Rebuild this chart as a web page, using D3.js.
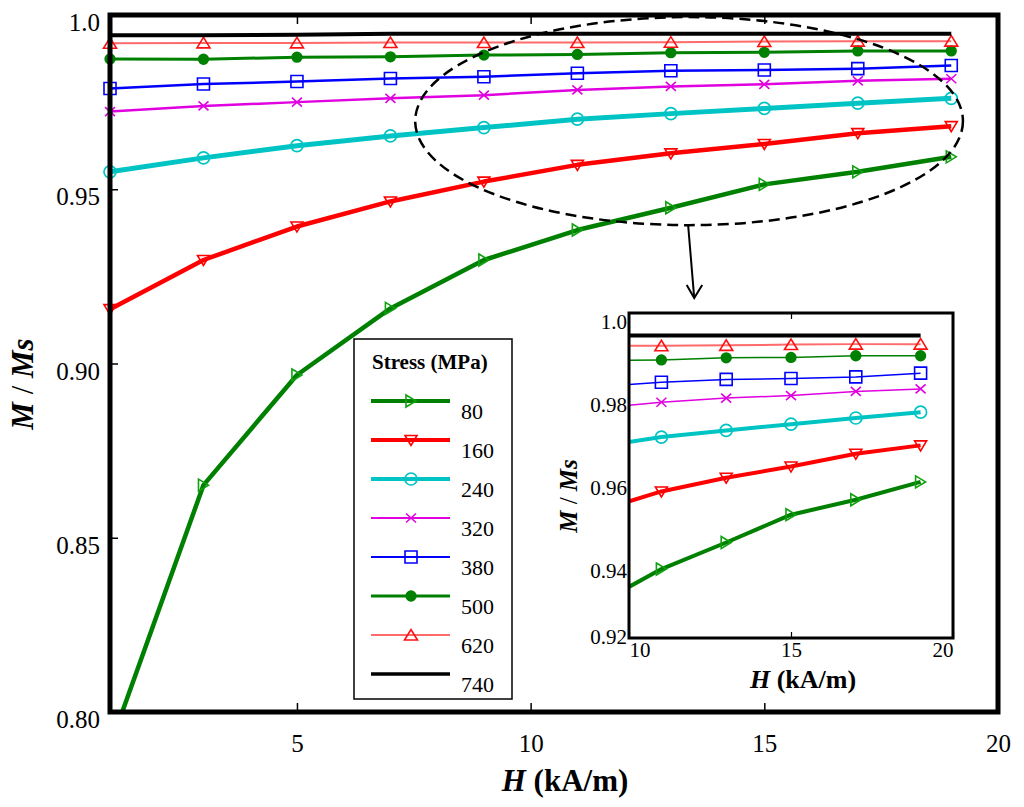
<!DOCTYPE html>
<html>
<head>
<meta charset="utf-8">
<script src="https://cdn.jsdelivr.net/npm/d3@7"></script>
<style>
  body { margin: 0; background: #fff; }
</style>
</head>
<body>
<div id="chart"></div>
<script>
// field H (kA/m) at which M/Ms was computed
const H = [1, 3, 5, 7, 9, 11, 13, 15, 17, 19];

// M/Ms for each stress level (MPa)
const s80  = [0.7902, 0.8651, 0.8967, 0.9158, 0.9297, 0.9383, 0.9447, 0.9514, 0.9550, 0.9593];
const s160 = [0.9156, 0.9297, 0.9393, 0.9465, 0.9522, 0.9570, 0.9603, 0.9630, 0.9661, 0.9681];
const s240 = [0.9550, 0.9590, 0.9625, 0.9653, 0.9677, 0.9701, 0.9717, 0.9732, 0.9747, 0.9761];
const s320 = [0.9723, 0.9739, 0.9750, 0.9761, 0.9770, 0.9785, 0.9795, 0.9801, 0.9811, 0.9817];
const s380 = [0.9789, 0.9802, 0.9809, 0.9818, 0.9823, 0.9833, 0.9840, 0.9842, 0.9846, 0.9855];
const s500 = [0.9874, 0.9873, 0.9879, 0.9880, 0.9885, 0.9887, 0.9892, 0.9893, 0.9897, 0.9897];
const s620 = [0.9919, 0.9920, 0.9920, 0.9921, 0.9921, 0.9921, 0.9922, 0.9924, 0.9925, 0.9925];
const s740 = [0.9942, 0.9942, 0.9943, 0.9946, 0.9946, 0.9946, 0.9946, 0.9946, 0.9946, 0.9946];

const stressLabels = ["80", "160", "240", "320", "380", "500", "620", "740"];

const mainXTicks = [5, 10, 15, 20];
const mainYTicks = [0.80, 0.85, 0.90, 0.95, 1.0];
const insetXTicks = [10, 15, 20];
const insetYTicks = [0.92, 0.94, 0.96, 0.98, 1.0];

// styling per series
const lineColors   = ["#008000", "#ff0000", "#00c4c4", "#e000e0", "#0000ff", "#008000", "#ff6a6a", "#000000"];
const markColors   = ["#10a010", "#ff0000", "#00c4c4", "#e000e0", "#0000ff", "#008000", "#ff1010", "none"];
const mainWidths   = [4.5, 4.5, 5, 2.5, 2.5, 3, 2, 4];
const insetWidths  = [4, 4, 4, 1.5, 1.5, 1.5, 2, 4];
const legendWidths = [4, 4, 4, 2, 2, 3, 2, 3.5];
const markerTypes  = ["triRight", "triDown", "circle", "cross", "square", "dot", "triUp", "none"];

const serif = "'Liberation Serif', 'Times New Roman', serif";

const allValues = [s80, s160, s240, s320, s380, s500, s620, s740];
const series = stressLabels.map((lab, i) => ({
  label: lab,
  points: H.map((h, j) => ({h: h, m: allValues[i][j]})),
  color: lineColors[i],
  mark: markColors[i],
  type: markerTypes[i],
  wMain: mainWidths[i],
  wInset: insetWidths[i],
  wLegend: legendWidths[i]
}));

const shapes = {
  triRight: "M-5,-6 L5,0 L-5,6 Z",
  triDown: "M-6,-4.5 L6,-4.5 L0,5.5 Z",
  triUp: "M-6.5,5 L6.5,5 L0,-5.5 Z",
  cross: "M-5,-4.5 L5,4.5 M-5,4.5 L5,-4.5",
  square: "M-6,-6 H6 V6 H-6 Z"
};

function drawMarkers(g, s, pts, px, py) {
  if (s.type === "none") return;
  if (s.type === "circle" || s.type === "dot") {
    g.selectAll(null)
      .data(pts)
      .enter()
      .append("circle")
      .attr("cx", d => px(d))
      .attr("cy", d => py(d))
      .attr("r", s.type === "dot" ? 4.8 : 6)
      .attr("fill", s.type === "dot" ? s.mark : "none")
      .attr("stroke", s.mark)
      .attr("stroke-width", 1.7);
  } else {
    g.selectAll(null)
      .data(pts)
      .enter()
      .append("path")
      .attr("d", shapes[s.type])
      .attr("transform", d => "translate(" + px(d) + "," + py(d) + ")")
      .attr("fill", "none")
      .attr("stroke", s.mark)
      .attr("stroke-width", 1.6);
  }
}

const svg = d3.select("#chart")
  .append("svg")
  .attr("width", 1024)
  .attr("height", 807)
  .style("font-family", serif);

// ---------- main plot ----------
const x = d3.scaleLinear().domain([1, 20]).range([110, 998]);
const y = d3.scaleLinear().domain([0.80, 1.0]).range([712, 15]);

svg.append("clipPath").attr("id", "clipMain")
  .append("rect")
  .attr("x", 90).attr("y", y(1.0))
  .attr("width", x(20) - 90 + 20).attr("height", y(0.80) - y(1.0));

const fmtMain = d => d === 1 ? "1.0" : d3.format(".2f")(d);

const gx = svg.append("g")
  .attr("transform", "translate(0," + y(0.80) + ")")
  .call(d3.axisBottom(x).tickValues(mainXTicks).tickSize(-9).tickPadding(22));
gx.select(".domain").remove();
gx.attr("font-family", serif);
gx.selectAll("text").attr("font-size", 25).attr("fill", "#000");
gx.selectAll("line").attr("stroke-width", 1.5);

const gxTop = svg.append("g")
  .attr("transform", "translate(0," + y(1.0) + ")")
  .call(d3.axisTop(x).tickValues(mainXTicks).tickSize(-9).tickFormat(""));
gxTop.select(".domain").remove();
gxTop.selectAll("line").attr("stroke-width", 1.5);

const gy = svg.append("g")
  .attr("transform", "translate(" + x(1) + ",0)")
  .call(d3.axisLeft(y).tickValues(mainYTicks).tickSize(-8).tickPadding(10).tickFormat(fmtMain));
gy.select(".domain").remove();
gy.attr("font-family", serif);
gy.selectAll("text").attr("font-size", 25).attr("fill", "#000").attr("dy", "0.62em");
gy.selectAll("line").attr("stroke-width", 1.5);

const mainLine = d3.line().x(d => x(d.h)).y(d => y(d.m));
const gMain = svg.append("g").attr("clip-path", "url(#clipMain)");
series.forEach(s => {
  gMain.append("path")
    .datum(s.points)
    .attr("d", mainLine)
    .attr("fill", "none")
    .attr("stroke", s.color)
    .attr("stroke-width", s.wMain)
    .attr("stroke-linejoin", "round");
  drawMarkers(gMain, s, s.points, d => x(d.h), d => y(d.m));
});

svg.append("rect")
  .attr("x", x(1)).attr("y", y(1.0))
  .attr("width", x(20) - x(1)).attr("height", y(0.80) - y(1.0))
  .attr("fill", "none").attr("stroke", "#000").attr("stroke-width", 5);

// axis titles
const xt = svg.append("text")
  .attr("x", 565).attr("y", 791)
  .attr("text-anchor", "middle")
  .attr("font-size", 31).attr("font-weight", "bold");
xt.append("tspan").attr("font-style", "italic").text("H");
xt.append("tspan").text(" (kA/m)");

const yt = svg.append("text")
  .attr("transform", "translate(33,384) rotate(-90)")
  .attr("text-anchor", "middle")
  .attr("font-size", 31).attr("font-weight", "bold").attr("font-style", "italic");
yt.append("tspan").text("M");
yt.append("tspan").attr("font-weight", "normal").attr("font-style", "normal").text(" / ");
yt.append("tspan").text("Ms");

// ---------- zoom annotation: dashed ellipse and arrow ----------
const ellipseH = [7.53, 19.25];
const ellipseM = [0.9397, 0.9994];
svg.append("ellipse")
  .attr("cx", (x(ellipseH[0]) + x(ellipseH[1])) / 2)
  .attr("cy", (y(ellipseM[0]) + y(ellipseM[1])) / 2)
  .attr("rx", (x(ellipseH[1]) - x(ellipseH[0])) / 2)
  .attr("ry", (y(ellipseM[0]) - y(ellipseM[1])) / 2)
  .attr("fill", "none").attr("stroke", "#000")
  .attr("stroke-width", 2.5).attr("stroke-dasharray", "11 6");

const arrowFrom = {h: 13.37, m: 0.9397};
const arrowTo = {h: 13.50, m: 0.9188};
svg.append("line")
  .attr("x1", x(arrowFrom.h)).attr("y1", y(arrowFrom.m))
  .attr("x2", x(arrowTo.h)).attr("y2", y(arrowTo.m))
  .attr("stroke", "#000").attr("stroke-width", 2);
svg.append("path")
  .attr("d", "M" + (x(arrowTo.h) - 7.5) + "," + (y(arrowTo.m) - 13) +
             " L" + x(arrowTo.h) + "," + y(arrowTo.m) +
             " L" + (x(arrowTo.h) + 8) + "," + (y(arrowTo.m) - 13))
  .attr("fill", "none").attr("stroke", "#000").attr("stroke-width", 2);

// ---------- legend ----------
const lg = svg.append("g");
lg.append("rect")
  .attr("x", 354).attr("y", 339).attr("width", 158).attr("height", 360)
  .attr("fill", "#fff").attr("stroke", "#000").attr("stroke-width", 1.5);
lg.append("text")
  .attr("x", 372).attr("y", 369)
  .attr("font-size", 21).attr("font-weight", "bold")
  .text("Stress (MPa)");
series.forEach((s, i) => {
  const ly = 401 + i * 39;
  lg.append("line")
    .attr("x1", 371).attr("x2", 450).attr("y1", ly).attr("y2", ly)
    .attr("stroke", s.color).attr("stroke-width", s.wLegend);
  drawMarkers(lg, s, [0], () => 411, () => ly);
  lg.append("text")
    .attr("x", 461).attr("y", ly + 18)
    .attr("font-size", 22)
    .text(s.label);
});

// ---------- inset ----------
const xi = d3.scaleLinear().domain([10, 20]).range([629, 953]);
const yi = d3.scaleLinear().domain([0.92, 1.0]).range([645, 313]);
const insetTop = 313, insetBottom = 638;

svg.append("rect")
  .attr("x", xi(10)).attr("y", insetTop)
  .attr("width", xi(20) - xi(10)).attr("height", insetBottom - insetTop)
  .attr("fill", "#fff");

svg.append("clipPath").attr("id", "clipInset")
  .append("rect")
  .attr("x", xi(10)).attr("y", insetTop)
  .attr("width", xi(20) - xi(10)).attr("height", insetBottom - insetTop);

const insetLine = d3.line().x(d => xi(d.h)).y(d => yi(d.m));
const gIn = svg.append("g").attr("clip-path", "url(#clipInset)");
series.forEach(s => {
  gIn.append("path")
    .datum(s.points)
    .attr("d", insetLine)
    .attr("fill", "none")
    .attr("stroke", s.color)
    .attr("stroke-width", s.wInset)
    .attr("stroke-linejoin", "round");
  drawMarkers(gIn, s, s.points.filter(d => d.h >= 10), d => xi(d.h), d => yi(d.m));
});

const gxi = svg.append("g")
  .attr("transform", "translate(0," + insetBottom + ")")
  .call(d3.axisBottom(xi).tickValues(insetXTicks).tickSize(-6).tickPadding(4));
gxi.select(".domain").remove();
gxi.attr("font-family", serif);
gxi.selectAll("line").attr("stroke-width", 1.2);
gxi.selectAll("text")
  .attr("font-size", 21).attr("fill", "#000")
  .attr("text-anchor", d => d === 10 ? "start" : (d === 20 ? "end" : "middle"));

const gxiTop = svg.append("g")
  .attr("transform", "translate(0," + insetTop + ")")
  .call(d3.axisTop(xi).tickValues([15]).tickSize(-6).tickFormat(""));
gxiTop.select(".domain").remove();
gxiTop.selectAll("line").attr("stroke-width", 1.2);

const gyi = svg.append("g")
  .attr("transform", "translate(" + xi(10) + ",0)")
  .call(d3.axisLeft(yi).tickValues(insetYTicks).tickSize(0).tickPadding(2)
    .tickFormat(d => d === 1 ? "1.0" : d3.format(".2f")(d)));
gyi.select(".domain").remove();
gyi.attr("font-family", serif);
gyi.selectAll("text")
  .attr("font-size", 21).attr("fill", "#000")
  .attr("dy", d => d === 0.92 ? "-0.05em" : "0.72em");

svg.append("rect")
  .attr("x", xi(10)).attr("y", insetTop)
  .attr("width", xi(20) - xi(10)).attr("height", insetBottom - insetTop)
  .attr("fill", "none").attr("stroke", "#000").attr("stroke-width", 3);

const xti = svg.append("text")
  .attr("x", 803).attr("y", 688)
  .attr("text-anchor", "middle")
  .attr("font-size", 26).attr("font-weight", "bold");
xti.append("tspan").attr("font-style", "italic").text("H");
xti.append("tspan").text(" (kA/m)");

const yti = svg.append("text")
  .attr("transform", "translate(577,496) rotate(-90)")
  .attr("text-anchor", "middle")
  .attr("font-size", 25).attr("font-weight", "bold").attr("font-style", "italic");
yti.append("tspan").text("M");
yti.append("tspan").attr("font-weight", "normal").attr("font-style", "normal").text(" / ");
yti.append("tspan").text("Ms");
</script>
</body>
</html>
